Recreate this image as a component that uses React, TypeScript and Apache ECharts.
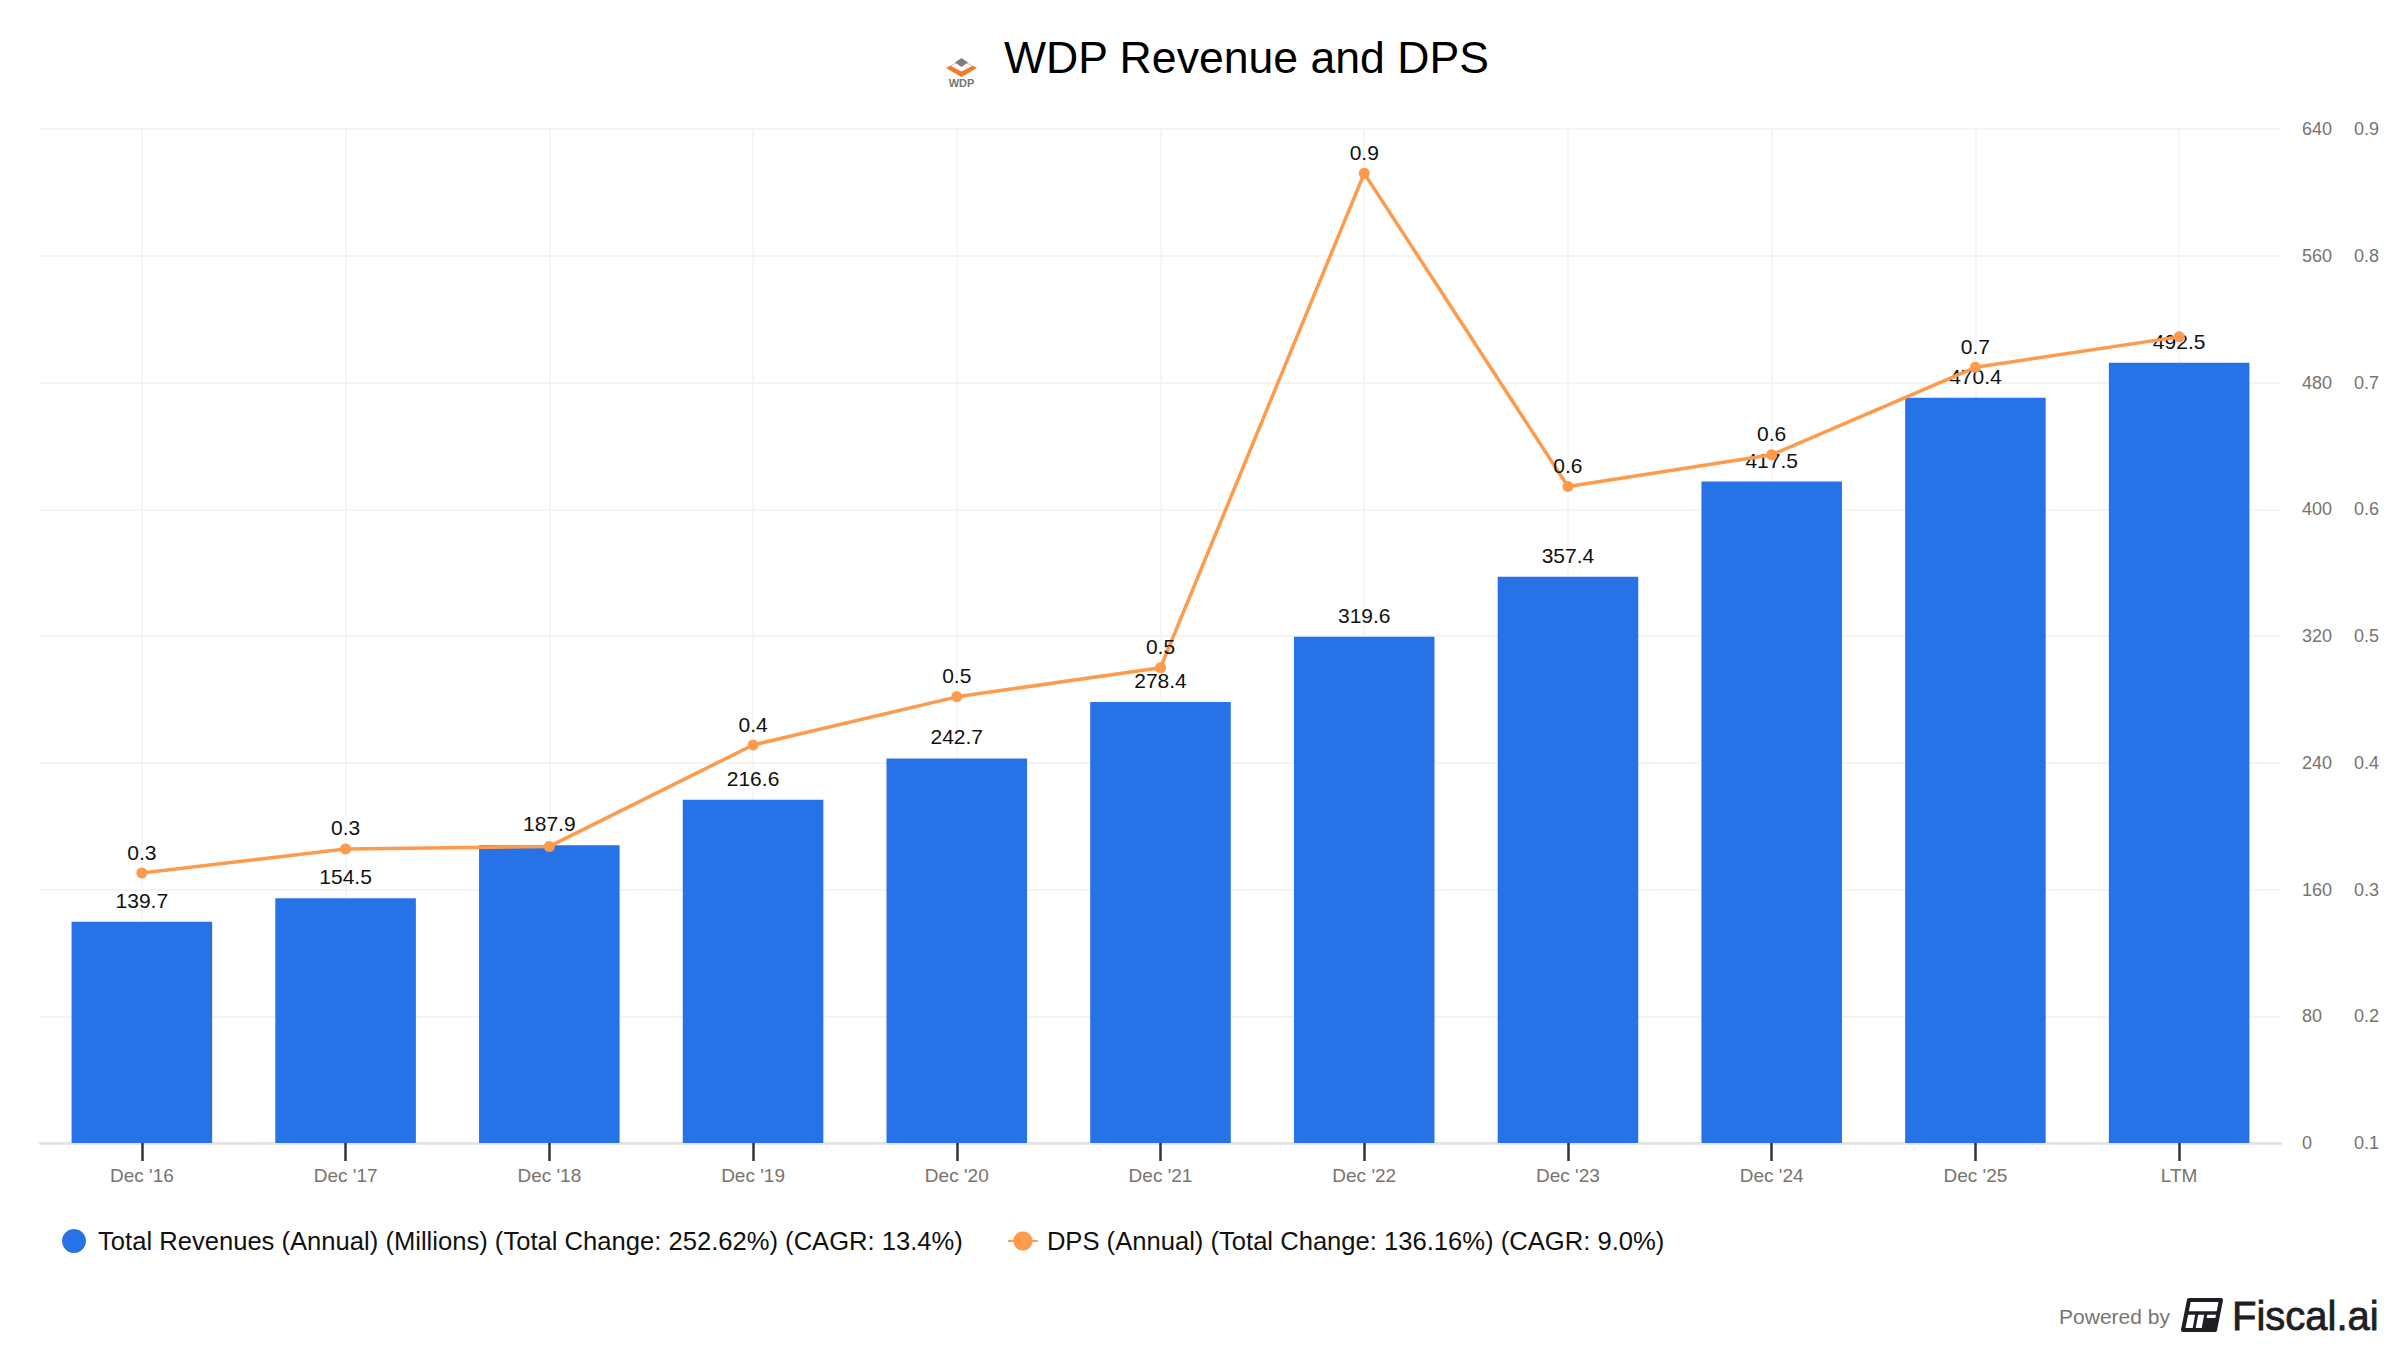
import React, { useEffect, useRef } from 'react';
import * as echarts from 'echarts';

const categories = ["Dec '16", "Dec '17", "Dec '18", "Dec '19", "Dec '20", "Dec '21", "Dec '22", "Dec '23", "Dec '24", "Dec '25", 'LTM'];
const revenue = [139.7, 154.5, 187.9, 216.6, 242.7, 278.4, 319.6, 357.4, 417.5, 470.4, 492.5];
const dps = [0.313, 0.332, 0.334, 0.414, 0.452, 0.475, 0.865, 0.618, 0.643, 0.712, 0.736];
const dpsLabelHidden = [false, false, true, false, false, false, false, false, false, false, true];

const revenueName = 'Total Revenues (Annual) (Millions) (Total Change: 252.62%) (CAGR: 13.4%)';
const dpsName = 'DPS (Annual) (Total Change: 136.16%) (CAGR: 9.0%)';
const titleText = 'WDP Revenue and DPS';

const revAxis = { min: 0, max: 640, interval: 80 };
const dpsAxis = { min: 0.1, max: 0.9, interval: 0.1 };

const FONT = '"Liberation Sans", Arial, Helvetica, sans-serif';
const BLUE = '#2872e8';
const ORANGE = '#fe9a4c';
const GRAY = '#78736e';

export default function App() {
  const ref = useRef<HTMLDivElement>(null);
  useEffect(() => {
    document.body.style.margin = '0';
    const chart = echarts.init(ref.current!, null, { renderer: 'svg' });
    const option: any = {
      animation: false,
      backgroundColor: '#ffffff',
      textStyle: { fontFamily: FONT },
      title: {
        text: titleText,
        left: 999,
        top: 30,
        textStyle: { fontSize: 44.6, fontWeight: 'normal', color: '#000', fontFamily: FONT },
      },
      grid: { left: 40, right: 119, top: 129, bottom: 207, containLabel: false },
      legend: {
        left: 57,
        top: 1223,
        itemWidth: 30,
        itemHeight: 24,
        itemGap: 44,
        textStyle: { fontSize: 25.6, color: '#111', fontFamily: FONT, padding: [0, 0, 0, 4] },
        data: [
          { name: revenueName, icon: 'circle' },
          { name: dpsName },
        ],
      },
      xAxis: {
        type: 'category',
        data: categories,
        axisLine: { lineStyle: { color: '#e2e2e2', width: 2.5 } },
        axisTick: { show: true, alignWithLabel: true, length: 18, lineStyle: { color: '#333', width: 2.5 } },
        splitLine: { show: true, alignWithLabel: true, lineStyle: { color: '#f3f3f3', width: 1.5 } },
        axisLabel: { color: GRAY, fontSize: 19, margin: 23, fontFamily: FONT },
      },
      yAxis: [
        {
          type: 'value',
          position: 'right',
          min: revAxis.min,
          max: revAxis.max,
          interval: revAxis.interval,
          axisLine: { show: false },
          axisTick: { show: false },
          splitLine: { show: true, lineStyle: { color: '#f1f1f1', width: 1.5 } },
          axisLabel: { color: GRAY, fontSize: 18, margin: 21, fontFamily: FONT },
        },
        {
          type: 'value',
          position: 'right',
          offset: 52,
          min: dpsAxis.min,
          max: dpsAxis.max,
          interval: dpsAxis.interval,
          axisLine: { show: false },
          axisTick: { show: false },
          splitLine: { show: false },
          axisLabel: { color: GRAY, fontSize: 18, margin: 21, fontFamily: FONT, formatter: (v: number) => v.toFixed(1) },
        },
      ],
      series: [
        {
          name: revenueName,
          type: 'bar',
          yAxisIndex: 0,
          data: revenue,
          barWidth: '69%',
          itemStyle: { color: BLUE },
          label: {
            show: true,
            position: 'top',
            distance: 11,
            color: '#111',
            fontSize: 21,
            fontFamily: FONT,
            formatter: (p: any) => Number(p.value).toFixed(1),
          },
        },
        {
          name: dpsName,
          type: 'line',
          yAxisIndex: 1,
          data: dps.map((v, i) => ({ value: v, label: { show: !dpsLabelHidden[i] } })),
          symbol: 'circle',
          symbolSize: 11,
          lineStyle: { color: ORANGE, width: 3.5 },
          itemStyle: { color: ORANGE },
          label: {
            show: true,
            position: 'top',
            distance: 5,
            color: '#111',
            fontSize: 21,
            fontFamily: FONT,
            formatter: (p: any) => Number(p.value).toFixed(1),
          },
          z: 3,
        },
      ],
      graphic: [
        // WDP logo
        { type: 'polygon', shape: { points: [[946, 68], [961.5, 60], [977, 68], [961.5, 77]] }, style: { fill: '#f07b2a' } },
        { type: 'polygon', shape: { points: [[951, 66], [961.5, 60.5], [972, 66], [961.5, 71.5]] }, style: { fill: '#ffffff' } },
        { type: 'polygon', shape: { points: [[955, 62.5], [961.5, 58], [968, 62.5], [961.5, 67]] }, style: { fill: '#7d7d7d' } },
        { type: 'text', x: 961.5, y: 83, style: { text: 'WDP', fill: '#777', font: 'bold 11px "Liberation Sans", Arial, sans-serif', align: 'center', verticalAlign: 'middle' } },
        // Footer
        { type: 'text', x: 2170, y: 1316, style: { text: 'Powered by', fill: '#7a7570', font: '21px "Liberation Sans", Arial, sans-serif', align: 'right', verticalAlign: 'middle' } },
        { type: 'polygon', shape: { points: [[2189, 1300], [2221, 1300], [2215, 1330], [2183, 1330]] }, style: { fill: 'none', stroke: '#1e1e24', lineWidth: 4, lineJoin: 'round' } },
        { type: 'line', shape: { x1: 2186, y1: 1313, x2: 2219, y2: 1313 }, style: { stroke: '#1e1e24', lineWidth: 3.5 } },
        { type: 'line', shape: { x1: 2197, y1: 1313, x2: 2194, y2: 1329 }, style: { stroke: '#1e1e24', lineWidth: 3 } },
        { type: 'line', shape: { x1: 2206, y1: 1313, x2: 2203, y2: 1329 }, style: { stroke: '#1e1e24', lineWidth: 3 } },
        { type: 'polygon', shape: { points: [[2206, 1318], [2217, 1318], [2215, 1329], [2204, 1329]] }, style: { fill: '#1e1e24' } },
        { type: 'text', x: 2232, y: 1316, style: { text: 'Fiscal.ai', fill: '#1e1e24', stroke: '#1e1e24', lineWidth: 0.8, font: '40px "Liberation Sans", Arial, sans-serif', align: 'left', verticalAlign: 'middle' } },
      ],
    };
    chart.setOption(option);
    return () => chart.dispose();
  }, []);
  return <div ref={ref} style={{ position: 'absolute', left: 0, top: 0, width: 2400, height: 1350 }} />;
}
